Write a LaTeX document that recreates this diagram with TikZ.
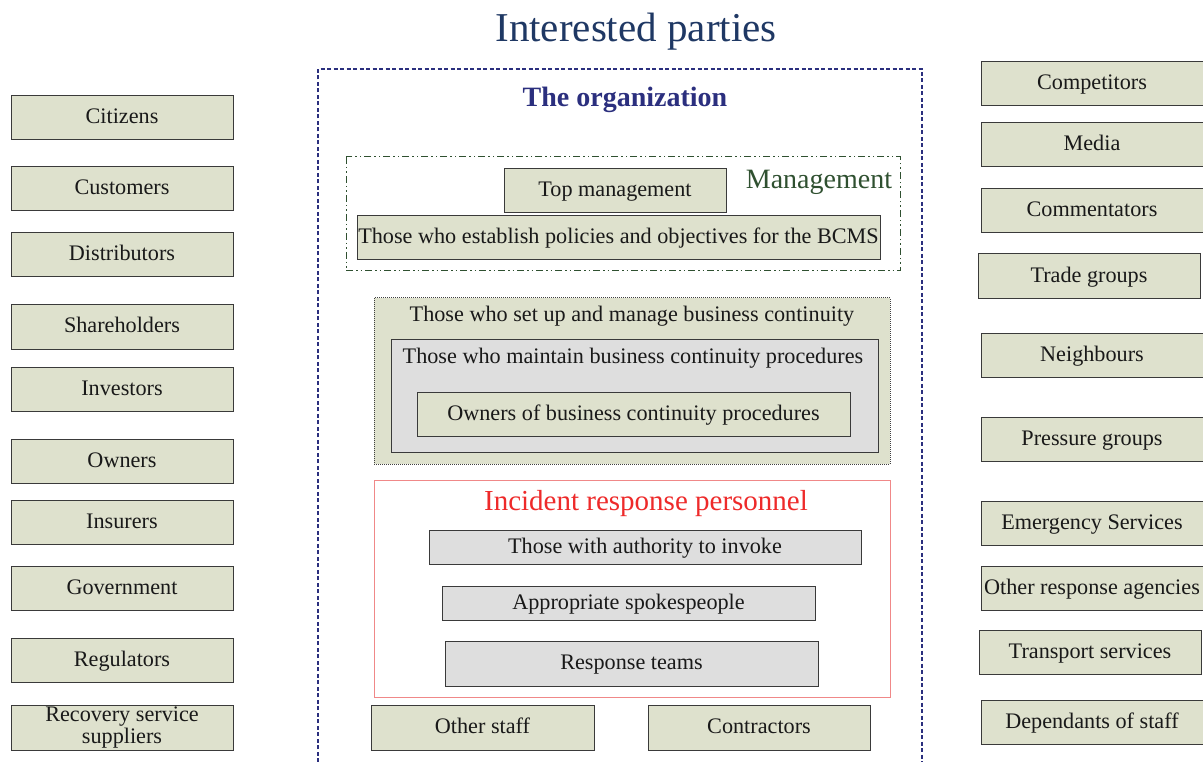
\documentclass[tikz,border=0pt]{standalone}
\usepackage{fontspec}
\setmainfont{Liberation Serif}
\definecolor{olive}{HTML}{DEE1CD}
\definecolor{grayf}{HTML}{DEDEDE}
\definecolor{bord}{HTML}{3A3A3A}
\definecolor{navy}{HTML}{2B2F7E}
\definecolor{titleblue}{HTML}{1F3864}
\definecolor{mgreen}{HTML}{2F5030}
\definecolor{ired}{HTML}{EE2A2A}
\definecolor{iredline}{HTML}{F08888}
\tikzset{
  bodyfont/.style={font=\fontsize{22.2}{23}\selectfont},
  obox/.style={draw=bord, line width=1pt, fill=olive, bodyfont, inner sep=0pt, text=black!90, text height=16pt, text depth=4pt},
  gbox/.style={draw=bord, line width=1pt, fill=grayf, bodyfont, inner sep=0pt, text=black!90, text height=16pt, text depth=4pt},
  lbl/.style={inner sep=0pt, bodyfont, text=black!90, text height=16pt, text depth=4pt},
}
\newcommand{\bx}[6]{% style, name, x1, y1, x2, y2
  \node[#1, minimum width={(#5-#3)*1pt}, minimum height={(#6-#4)*1pt}] (#2) at ({(#3+#5)/2},{(#4+#6)/2})}
\begin{document}
\begin{tikzpicture}[x=1pt,y=-1pt]
\useasboundingbox (0,0) rectangle (1203,762);
\fill[white] (0,0) rectangle (1203,762);

% title
\node[inner sep=0pt, text=titleblue, font=\fontsize{41}{43}\selectfont] (title) at (636,32) {Interested parties};

% organization outer box
\draw[navy, line width=2.4pt, dash pattern=on 4pt off 2.5pt] (318,762) -- (318,69) -- (922,69) -- (922,762);
\node[inner sep=0pt, text=navy, font=\bfseries\fontsize{28}{30}\selectfont] (org) at (625,100) {The organization};

% management
\draw[mgreen, line width=1pt, dash pattern=on 7pt off 3pt on 1.5pt off 3pt on 1.5pt off 3pt] (346,157) rectangle (900,271);
\node[inner sep=0pt, text=mgreen, font=\fontsize{28}{30}\selectfont] (mgmt) at (819,182) {Management};
\bx{obox}{top}{504}{169}{726}{213} {Top management};
\bx{obox}{policy}{357}{216}{880}{260} {Those who establish policies and objectives for the BCMS};

% business continuity
\bx{obox, draw=black!75, densely dotted}{bc}{374}{298}{890}{464} {};
\node[lbl] (bclbl) at (632,315) {Those who set up and manage business continuity};
\bx{gbox}{maint}{391}{339}{878}{452} {};
\node[lbl] (maintlbl) at (633,357) {Those who maintain business continuity procedures};
\bx{obox}{owners}{417}{392}{850}{436} {Owners of business continuity procedures};

% incident response
\draw[iredline, line width=0.8pt] (374,480) rectangle (890,697);
\node[inner sep=0pt, text=ired, font=\fontsize{29}{31}\selectfont] (irp) at (646,504) {Incident response personnel};
\bx{gbox}{invoke}{429}{530}{861}{564} {Those with authority to invoke};
\bx{gbox}{spokes}{442}{586}{815}{620} {Appropriate spokespeople};
\bx{gbox}{teams}{445}{641}{818}{686} {Response teams};

\bx{obox}{otherstaff}{371}{705}{594}{750} {Other staff};
\bx{obox}{contractors}{648}{705}{870}{750} {Contractors};

% left column
\bx{obox}{citizens}{11}{96}{233}{140} {Citizens};
\bx{obox}{customers}{11}{167}{233}{211} {Customers};
\bx{obox}{distributors}{11}{233}{233}{277} {Distributors};
\bx{obox}{shareholders}{11}{305}{233}{349} {Shareholders};
\bx{obox}{investors}{11}{367}{233}{411} {Investors};
\bx{obox}{owners2}{11}{439}{233}{483} {Owners};
\bx{obox}{insurers}{11}{500}{233}{544} {Insurers};
\bx{obox}{government}{11}{566}{233}{610} {Government};
\bx{obox}{regulators}{11}{638}{233}{682} {Regulators};
\bx{obox, align=center, text height=, text depth=, font=\fontsize{22.2}{22}\selectfont}{recovery}{11}{705}{233}{750} {Recovery service\\suppliers};

% right column
\bx{obox}{competitors}{981}{62}{1203}{106} {Competitors};
\bx{obox}{media}{981}{123}{1203}{167} {Media};
\bx{obox}{commentators}{981}{189}{1203}{233} {Commentators};
\bx{obox}{trade}{978}{254}{1200}{299} {Trade groups};
\bx{obox}{neighbours}{981}{333}{1203}{377} {Neighbours};
\bx{obox}{pressure}{981}{417}{1203}{461} {Pressure groups};
\bx{obox}{emergency}{981}{501}{1203}{545} {Emergency Services};
\bx{obox}{otheragencies}{981}{566}{1203}{610} {Other response agencies};
\bx{obox}{transport}{979}{630}{1201}{674} {Transport services};
\bx{obox}{dependants}{981}{700}{1203}{744} {Dependants of staff};
\end{tikzpicture}
\end{document}
